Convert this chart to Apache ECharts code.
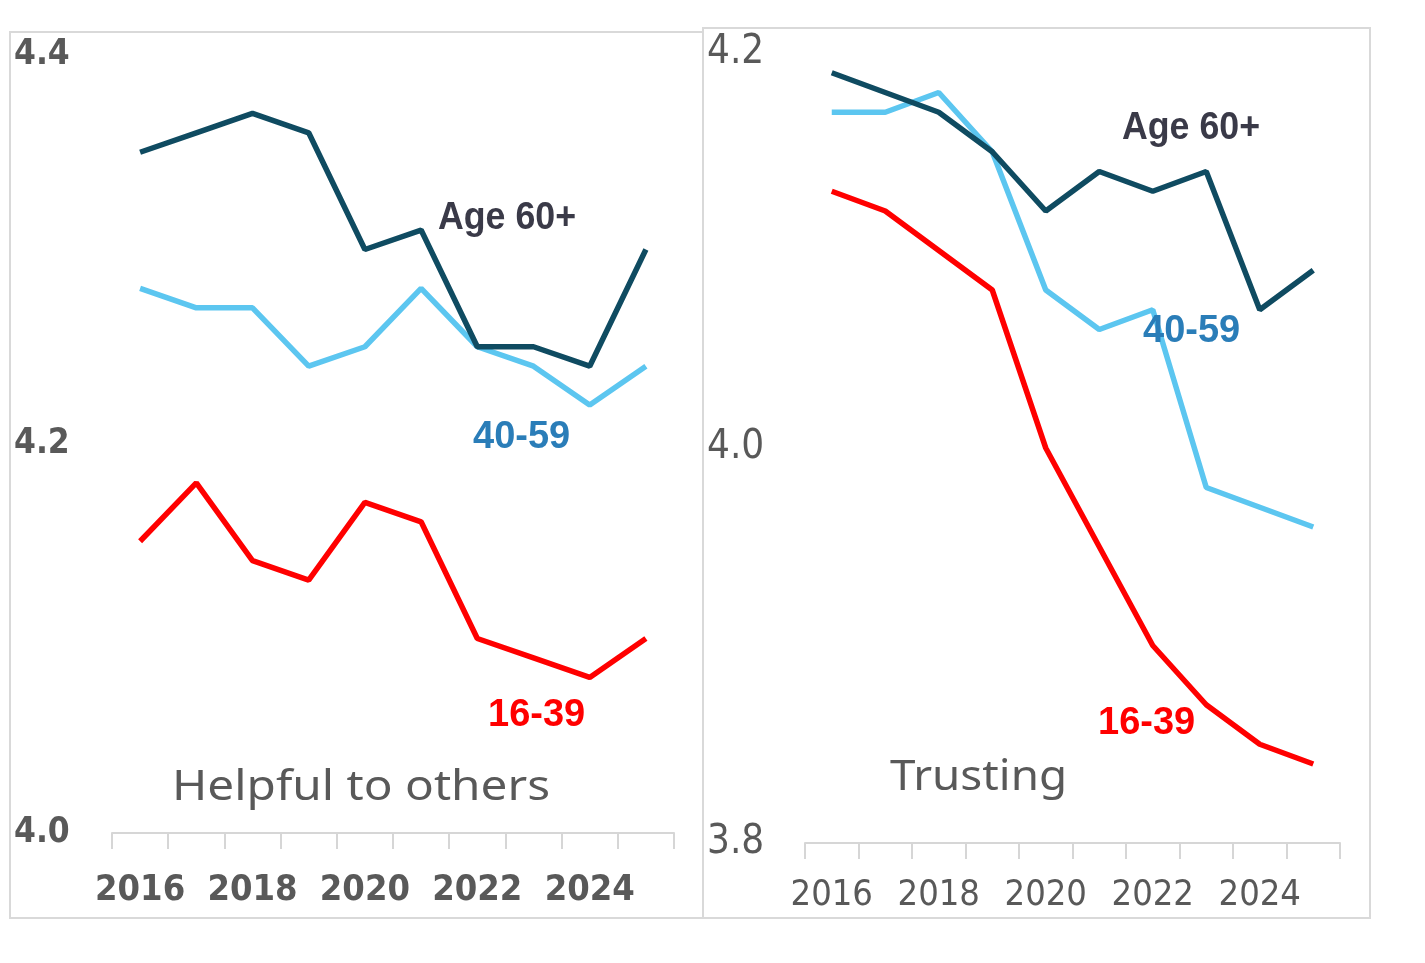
<!DOCTYPE html>
<html>
<head>
<meta charset="utf-8">
<script src="https://cdn.jsdelivr.net/npm/echarts@6/dist/echarts.min.js"></script>
<style>html,body{margin:0;padding:0;background:#fff;}#c{width:1425px;height:963px;}</style>
</head>
<body>
<div id="c"></div>
<script>
const years = ['2016','2017','2018','2019','2020','2021','2022','2023','2024','2025'];
// Helpful to others
const helpful60 = [4.35, 4.36, 4.37, 4.36, 4.30, 4.31, 4.25, 4.25, 4.24, 4.30];
const helpful40 = [4.28, 4.27, 4.27, 4.24, 4.25, 4.28, 4.25, 4.24, 4.22, 4.24];
const helpful16 = [4.15, 4.18, 4.14, 4.13, 4.17, 4.16, 4.10, 4.09, 4.08, 4.10];
// Trusting
const trust60 = [4.19, 4.18, 4.17, 4.15, 4.12, 4.14, 4.13, 4.14, 4.07, 4.09];
const trust40 = [4.17, 4.17, 4.18, 4.15, 4.08, 4.06, 4.07, 3.98, 3.97, 3.96];
const trust16 = [4.13, 4.12, 4.10, 4.08, 4.00, 3.95, 3.90, 3.87, 3.85, 3.84];
const leftTicks = ['4.0','4.2','4.4'];
const rightTicks = ['3.8','4.0','4.2'];

const C60 = '#0f4b61', C40 = '#5cc6f0', C16 = '#ff0000';
const numFont = '"Liberation Sans Narrow", "DejaVu Sans Condensed", "Liberation Sans", sans-serif';

const chart = echarts.init(document.getElementById('c'));

function xAxis(idx, margin, bold, size) {
  return {
    type: 'category', gridIndex: idx, data: years, boundaryGap: true,
    axisLine: {show: true, lineStyle: {color: '#d6d6d6', width: 2}},
    axisTick: {show: true, interval: 0, length: 16, lineStyle: {color: '#d6d6d6', width: 2}},
    axisLabel: {interval: 1, margin: margin, color: '#595959', fontFamily: numFont,
      fontWeight: bold ? 'bold' : 'normal', fontSize: size},
    splitLine: {show: false}
  };
}
function yAxis(idx, min, max, ticks, bold, size) {
  return {
    type: 'value', gridIndex: idx, min: min, max: max, interval: 0.2,
    axisLine: {show: false}, axisTick: {show: false}, splitLine: {show: false},
    axisLabel: {align: 'left', margin: 98, color: '#595959', fontFamily: numFont,
      fontWeight: bold ? 'bold' : 'normal', fontSize: size,
      formatter: function (v) {
        const s = v.toFixed(1);
        return ticks.indexOf(s) >= 0 ? s : '';
      }}
  };
}
function line(data, color, xi) {
  return {type: 'line', data: data, xAxisIndex: xi, yAxisIndex: xi, symbol: 'none',
    lineStyle: {color: color, width: 5.5}, itemStyle: {color: color}, z: color === C60 ? 3 : 2};
}
function txt(x, y, t, color, size, weight, sx, family) {
  return {type: 'text', x: x, y: y, scaleX: sx, z: 10,
    style: {text: t, fill: color, fontSize: size, fontWeight: weight,
      textAlign: 'left', textVerticalAlign: 'middle',
      fontFamily: family || '"Liberation Sans", sans-serif'}};
}

chart.setOption({
  animation: false,
  grid: [
    {left: 112, top: 55, width: 562, height: 778},
    {left: 805, top: 53, width: 535, height: 790}
  ],
  xAxis: [xAxis(0, 40, true, 36), xAxis(1, 35, false, 36)],
  yAxis: [yAxis(0, 4.0, 4.4, leftTicks, true, 35), yAxis(1, 3.8, 4.2, rightTicks, false, 40)],
  series: [
    line(helpful16, C16, 0), line(helpful40, C40, 0), line(helpful60, C60, 0),
    line(trust16, C16, 1), line(trust40, C40, 1), line(trust60, C60, 1)
  ],
  graphic: [
    {type: 'rect', shape: {x: 10, y: 32, width: 693, height: 886}, z: 0,
      style: {fill: 'none', stroke: '#d9d9d9', lineWidth: 2}},
    {type: 'rect', shape: {x: 703, y: 28, width: 667, height: 890}, z: 0,
      style: {fill: 'none', stroke: '#d9d9d9', lineWidth: 2}},
    txt(438, 219, 'Age 60+', '#3a3a48', 38, 'bold', 0.94),
    txt(473, 438, '40-59', '#2a7db8', 38, 'bold', 1),
    txt(488, 716, '16-39', '#ff0000', 38, 'bold', 1),
    txt(1122, 129, 'Age 60+', '#3a3a48', 38, 'bold', 0.94),
    txt(1143, 332, '40-59', '#2a7db8', 38, 'bold', 1),
    txt(1098, 724, '16-39', '#ff0000', 38, 'bold', 1),
    txt(172, 788, 'Helpful to others', '#595959', 42, 'normal', 1.136, '"Noto Sans", sans-serif'),
    txt(890, 778, 'Trusting', '#595959', 42, 'normal', 1.09, '"Noto Sans", sans-serif')
  ]
});
</script>
</body>
</html>
